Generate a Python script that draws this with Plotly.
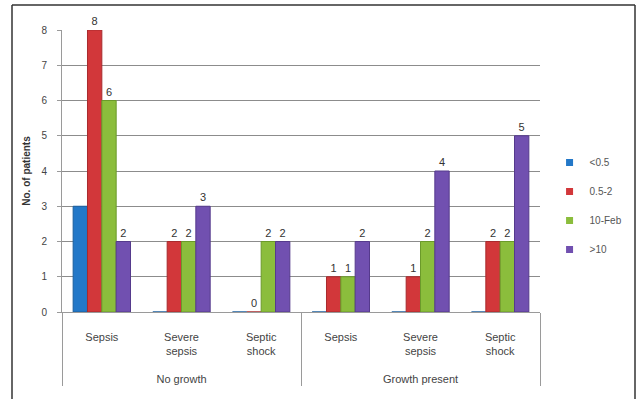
import plotly.graph_objects as go

# Patient counts by culture result, sepsis category and lactate band
groups = ["<br>No growth"] * 3 + ["<br>Growth present"] * 3
stages = [" <br>Sepsis", " <br>Severe<br>sepsis", " <br>Septic<br>shock"] * 2

series_names = ["<0.5", "0.5-2", "10-Feb", ">10"]
lt_05 = [3, 0, 0, 0, 0, 0]
b_05_2 = [8, 2, 0, 1, 1, 2]
b_2_10 = [6, 2, 2, 1, 2, 2]
gt_10 = [2, 3, 2, 2, 4, 5]
series_values = [lt_05, b_05_2, b_2_10, gt_10]
show_labels = [False, True, True, True]

colors = ["#2378c8", "#d2373a", "#8bbd3c", "#7150b0"]
edge = ["#1a5e9e", "#a82a2d", "#6b9a2a", "#553a8c"]

fig = go.Figure()
for name, vals, col, ec, lab in zip(series_names, series_values, colors, edge, show_labels):
    fig.add_trace(go.Bar(
        name=name,
        x=[groups, stages],
        y=vals,
        marker=dict(color=col, line=dict(color=ec, width=1)),
        text=[str(v) for v in vals] if lab else None,
        textposition="outside",
        textfont=dict(family="Liberation Sans, Arial", size=11, color="#333333"),
        cliponaxis=False,
        showlegend=False,
    ))

# Compact legend keys with small square swatches, one group each for spacing
for name, col in zip(series_names, colors):
    fig.add_trace(go.Scatter(
        name=name, x=[None], y=[None], mode="markers",
        marker=dict(symbol="square", size=7, color=col),
        legendgroup=name, showlegend=True,
    ))

# Outer frame (open at the bottom)
frame = dict(type="line", xref="paper", yref="paper",
             line=dict(color="#333333", width=1.5), layer="below")
left_x, right_x = -50 / 478, 573 / 478
top_y, bot_y = 1 + 25 / 282, -0.4

fig.update_layout(
    width=637, height=399,
    margin=dict(l=62, r=97, t=30, b=87, autoexpand=False),
    paper_bgcolor="white",
    plot_bgcolor="white",
    barmode="group",
    bargap=0.28,
    bargroupgap=0.0,
    font=dict(family="Liberation Sans, Arial", size=10, color="#444444"),
    showlegend=True,
    legend=dict(
        x=1.02, y=0.582, xanchor="left", yanchor="top",
        font=dict(size=10, color="#555555"),
        itemwidth=30, tracegroupgap=10,
        bgcolor="rgba(0,0,0,0)",
    ),
    yaxis=dict(
        range=[0, 8], dtick=1,
        showgrid=True, gridcolor="#8c8c8c", gridwidth=1,
        showline=True, linecolor="#9a9a9a",
        ticks="outside", ticklen=4, tickcolor="#9a9a9a",
        ticklabelstandoff=8,
        tickfont=dict(size=10, color="#444444"),
        title=dict(text="<b>No. of patients</b>", font=dict(size=10, color="#333333"), standoff=8),
        zeroline=False,
    ),
    xaxis=dict(
        type="multicategory",
        showline=True, linecolor="#9a9a9a",
        showdividers=True, dividercolor="#9a9a9a", dividerwidth=1,
        tickfont=dict(size=11, color="#444444"),
    ),
    shapes=[
        dict(frame, x0=left_x, x1=right_x, y0=top_y, y1=top_y),
        dict(frame, x0=left_x, x1=left_x, y0=bot_y, y1=top_y),
        dict(frame, x0=right_x, x1=right_x, y0=bot_y, y1=top_y),
    ],
)

fig.write_html("out.html")
